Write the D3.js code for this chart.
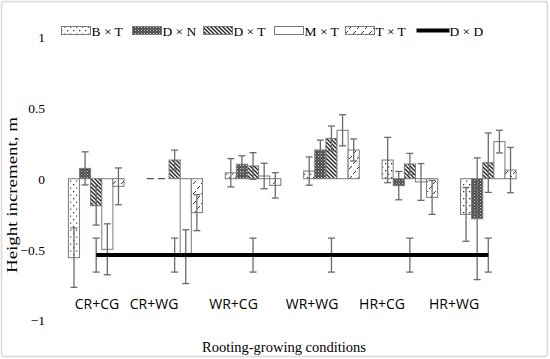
<!DOCTYPE html>
<html><head><meta charset="utf-8">
<script src="https://cdn.jsdelivr.net/npm/d3@7"></script>
<style>body{margin:0;background:#fff}svg{display:block}</style>
</head><body>
<svg id="c" width="550" height="359"></svg>
<script>
const categories = ["CR+CG","CR+WG","WR+CG","WR+WG","HR+CG","HR+WG"];
const seriesNames = ["B × T","D × N","D × T","M × T","T × T"];
const BxT     = [-0.558, 0,      0.042, 0.054,  0.132, -0.252];
const BxT_err = [ 0.21,  0,      0.10,  0.10,   0.16,   0.19];
const DxN     = [ 0.073, 0,      0.102, 0.203, -0.049, -0.283];
const DxN_err = [ 0.117, 0,      0.06,  0.07,   0.10,   0.43];
const DxT     = [-0.191, 0.132,  0.09,  0.285,  0.104,  0.113];
const DxT_err = [ 0.137, 0.07,   0.094, 0.087,  0.075,  0.21];
const MxT     = [-0.499,-0.551,  0.019, 0.342, -0.023,  0.262];
const MxT_err = [ 0.18,  0.19,   0.09,  0.11,   0.13,   0.08];
const TxT     = [-0.054,-0.24,  -0.047, 0.203, -0.132,  0.061];
const TxT_err = [ 0.13,  0.127,  0.09,  0.078,  0.12,   0.16];
const DxD     = [-0.54, -0.54,  -0.54, -0.54,  -0.54,  -0.54];
const DxD_err = [ 0.12,  0.12,   0.12,  0.12,   0.12,   0.12];
const yTicks  = [1, 0.5, 0, -0.5, -1];
const lineName = "D × D";

// layout: the category labels in the source are hand-placed text boxes, nudged from the band centres
const labelNudge = [0.8, -20.6, -19.5, -19.4, -27.8, -34.2];

const values = [BxT, DxN, DxT, MxT, TxT];
const errors = [BxT_err, DxN_err, DxT_err, MxT_err, TxT_err];
const patIds = ["pBT","pDN","pDT","pMT","pTT"];

const svg = d3.select("#c");
// frame
svg.append("rect").attr("x",1.5).attr("y",1.5).attr("width",546).attr("height",355)
  .attr("rx",3).attr("fill","#fff").attr("stroke","#d9d9d9").attr("stroke-width",1.5);

const defs = svg.append("defs");
// B x T: sparse dots
let p = defs.append("pattern").attr("id","pBT").attr("patternUnits","userSpaceOnUse").attr("width",6).attr("height",7);
p.append("rect").attr("width",6).attr("height",7).attr("fill","#fff");
p.append("rect").attr("x",1).attr("y",2).attr("width",1.3).attr("height",1.3).attr("fill","#333");
p.append("rect").attr("x",4).attr("y",5.5).attr("width",1.3).attr("height",1.3).attr("fill","#555");
// D x N: dense dark checker
p = defs.append("pattern").attr("id","pDN").attr("patternUnits","userSpaceOnUse").attr("width",3).attr("height",3);
p.append("rect").attr("width",3).attr("height",3).attr("fill","#4a4a4a");
p.append("rect").attr("x",0).attr("y",0).attr("width",1).attr("height",1).attr("fill","#d0d0d0");
p.append("rect").attr("x",1.5).attr("y",1.5).attr("width",1).attr("height",1).attr("fill","#9a9a9a");
// D x T: wide downward diagonal
p = defs.append("pattern").attr("id","pDT").attr("patternUnits","userSpaceOnUse").attr("width",4).attr("height",4);
p.append("rect").attr("width",4).attr("height",4).attr("fill","#fff");
p.append("path").attr("d","M-1,-1L5,5M-1,3L1,5M3,-1L5,1").attr("stroke","#222").attr("stroke-width",1.4);
// M x T: white
p = defs.append("pattern").attr("id","pMT").attr("patternUnits","userSpaceOnUse").attr("width",4).attr("height",4);
p.append("rect").attr("width",4).attr("height",4).attr("fill","#fff");
// T x T: dashed diagonals
p = defs.append("pattern").attr("id","pTT").attr("patternUnits","userSpaceOnUse").attr("width",8).attr("height",10);
p.append("rect").attr("width",8).attr("height",10).attr("fill","#fff");
p.append("path").attr("d","M1,4L4,1M5,9L8,6").attr("stroke","#333").attr("stroke-width",1);

const x0 = d3.scaleBand().domain(categories).range([57, 527.5]).paddingInner(0).paddingOuter(0);
const x1 = d3.scaleBand().domain(seriesNames).range([x0.bandwidth()/2 - 27.8, x0.bandwidth()/2 + 27.8]);
const y = d3.scaleLinear().domain([-1, 1]).range([320.2, 37.2]);

// y tick labels (no axis line)
const yAxis = d3.axisLeft(y).tickValues(yTicks).tickSize(0).tickPadding(0).tickFormat(d3.format("~g"));
const gy = svg.append("g").attr("transform","translate(45,0)").call(yAxis);
gy.select(".domain").remove();
gy.selectAll("text").attr("font-family","'Liberation Serif', 'Times New Roman', serif")
  .attr("font-size",13.5).attr("fill","#000").attr("dy","0.35em");

// bars
const bars = svg.append("g");
seriesNames.forEach((s, si) => {
  categories.forEach((c, ci) => {
    const v = values[si][ci];
    const bx = x0(c) + x1(s);
    if (v === 0) {
      bars.append("line").attr("x1", bx).attr("x2", bx + x1.bandwidth())
        .attr("y1", y(0)).attr("y2", y(0))
        .attr("stroke","#555").attr("stroke-width",1.3).attr("stroke-dasharray","7,4");
      return;
    }
    bars.append("rect")
      .attr("x", bx).attr("width", x1.bandwidth())
      .attr("y", y(Math.max(0, v))).attr("height", Math.abs(y(v) - y(0)))
      .attr("fill", `url(#${patIds[si]})`).attr("stroke","#7a7a7a").attr("stroke-width",1);
  });
});

// error bars for bars
const eg = svg.append("g").attr("stroke","#6b6b6b").attr("stroke-width",1.3).attr("fill","none");
function errBar(cx, v, e){
  if (!e) return;
  const t = y(v + e), b = y(v - e);
  eg.append("line").attr("x1",cx).attr("x2",cx).attr("y1",t).attr("y2",b);
  eg.append("line").attr("x1",cx-3.5).attr("x2",cx+3.5).attr("y1",t).attr("y2",t);
  eg.append("line").attr("x1",cx-3.5).attr("x2",cx+3.5).attr("y1",b).attr("y2",b);
}
seriesNames.forEach((s, si) => {
  categories.forEach((c, ci) => {
    errBar(x0(c) + x1(s) + x1.bandwidth()/2, values[si][ci], errors[si][ci]);
  });
});

// D x D line
const line = d3.line().x((d,i)=>x0(categories[i]) + x0.bandwidth()/2).y(d=>y(d));
svg.append("path").datum(DxD).attr("d", line).attr("stroke","#000").attr("stroke-width",4).attr("fill","none");
categories.forEach((c, ci) => errBar(x0(c) + x0.bandwidth()/2, DxD[ci], DxD_err[ci]));

// category labels
svg.append("g").selectAll("text").data(categories).join("text")
  .attr("x", (d,i) => x0(d) + x0.bandwidth()/2 + labelNudge[i]).attr("y", 309).attr("text-anchor","middle")
  .attr("font-family","'Open Sans', 'Liberation Sans', sans-serif").attr("font-size",14).attr("fill","#000")
  .text(d => d);

// axis titles
svg.append("text").attr("x", 284).attr("y", 352).attr("text-anchor","middle")
  .attr("font-family","'Liberation Serif', 'Times New Roman', serif").attr("font-size",14.5)
  .text("Rooting-growing conditions");
svg.append("text").attr("transform","translate(17,195) rotate(-90)").attr("text-anchor","middle")
  .attr("font-family","'Liberation Serif', 'Times New Roman', serif").attr("font-size",14.5)
  .attr("textLength",156).attr("lengthAdjust","spacingAndGlyphs")
  .text("Height increment, m");

// legend
const lg = svg.append("g");
const legendNames = seriesNames.concat([lineName]);
legendNames.forEach((n, i) => {
  const lx = 61.5 + i * 71;
  if (i < 5) {
    lg.append("rect").attr("x", lx).attr("y", 26.5).attr("width", 29).attr("height", 8)
      .attr("fill", `url(#${patIds[i]})`).attr("stroke","#7a7a7a").attr("stroke-width",1);
  } else {
    lg.append("line").attr("x1", lx).attr("x2", lx + 33).attr("y1", 30.5).attr("y2", 30.5)
      .attr("stroke","#000").attr("stroke-width",4);
  }
  lg.append("text").attr("x", lx + (i < 5 ? 30 : 33)).attr("y", 35.5)
    .attr("font-family","'Liberation Serif', 'Times New Roman', serif").attr("font-size",13.5)
    .text(n);
});
</script>
</body></html>
